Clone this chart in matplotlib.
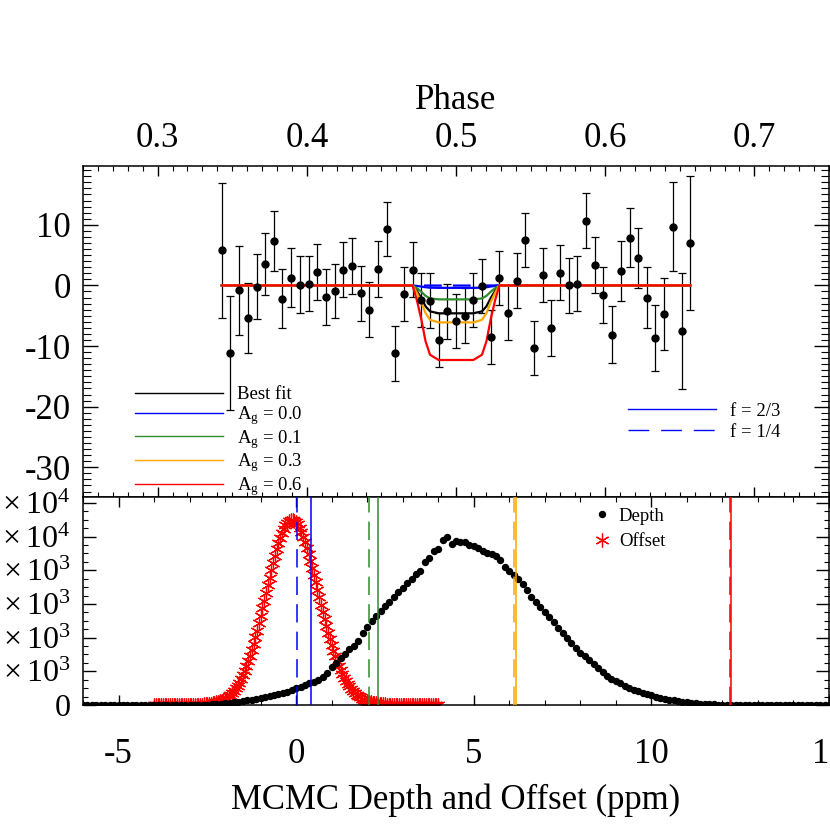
import matplotlib
matplotlib.use("Agg")
import matplotlib.pyplot as plt
import numpy as np
from matplotlib.lines import Line2D
from matplotlib.ticker import FixedFormatter, FixedLocator, MultipleLocator

plt.rcParams["font.family"] = ["Liberation Serif", "DejaVu Serif"]
plt.rcParams["mathtext.fontset"] = "custom"
plt.rcParams["mathtext.rm"] = "Liberation Serif"
plt.rcParams["mathtext.it"] = "Liberation Serif:italic"
plt.rcParams["axes.unicode_minus"] = False

# binned eclipse light curve
phase = [0.3430, 0.3488, 0.3546, 0.3604, 0.3663, 0.3721, 0.3779, 0.3837, 0.3895,
         0.3953, 0.4012, 0.4070, 0.4128, 0.4186, 0.4244, 0.4302, 0.4360, 0.4419,
         0.4477, 0.4535, 0.4593, 0.4651, 0.4709, 0.4767, 0.4826, 0.4884, 0.4942,
         0.5000, 0.5058, 0.5116, 0.5174, 0.5233, 0.5291, 0.5349, 0.5407, 0.5465,
         0.5523, 0.5581, 0.5640, 0.5698, 0.5756, 0.5814, 0.5872, 0.5930, 0.5988,
         0.6047, 0.6105, 0.6163, 0.6221, 0.6279, 0.6337, 0.6396, 0.6454, 0.6512,
         0.6570]
flux = [5.8, -11.2, -0.8, -5.4, -0.2, 3.5, 7.3, -2.2, 1.3, 0.1, 0.3, 2.2, -1.9,
        -0.9, 2.6, 3.2, -1.3, -4.0, 2.7, 9.3, -11.2, -1.4, 2.6, -2.4, -2.5, -9.0,
        -4.3, -5.9, -5.0, -2.4, -0.1, -8.5, 1.2, -4.5, 0.8, 7.5, -10.3, 1.7, -7.0,
        2.1, 0.0, 0.3, 10.7, 3.4, -1.6, -8.1, 2.4, 7.9, 4.5, -2.0, -8.7, -4.7,
        9.7, -7.5, 7.0]
flux_err = [11.1, 9.4, 7.3, 5.8, 5.4, 5.1, 5.0, 4.9, 4.8, 4.7, 4.6, 4.6, 4.6, 4.5,
            4.5, 4.6, 4.5, 4.5, 4.6, 4.5, 4.5, 4.5, 4.5, 4.5, 4.5, 4.5, 4.5, 4.5,
            4.5, 4.5, 4.5, 4.5, 4.5, 4.5, 4.5, 4.5, 4.5, 4.5, 4.6, 4.5, 4.6, 4.5,
            4.6, 4.6, 4.6, 4.7, 4.9, 4.9, 4.9, 5.1, 5.4, 5.9, 7.4, 9.6, 11.1]

# eclipse model shape (fraction of depth) and depths in ppm
model_phase = [0.343, 0.4709, 0.4738, 0.4767, 0.4796, 0.4826, 0.4884,
               0.5116, 0.5174, 0.5204, 0.5233, 0.5262, 0.5291, 0.657]
model_shape = [0, 0, 0.2, 0.45, 0.75, 0.93, 1, 1, 0.93, 0.75, 0.45, 0.2, 0, 0]
model_labels = ["Best fit", r"A$_{\rm g}$ = 0.0", r"A$_{\rm g}$ = 0.1",
                r"A$_{\rm g}$ = 0.3", r"A$_{\rm g}$ = 0.6"]
model_depths = [4.6, 0.4, 2.3, 6.1, 12.3]
model_colors = ["black", "blue", "#2e8b2e", "orange", "red"]
depth_ag0_quarter = 0.02

# predicted depths (ppm) for A_g = 0.0, 0.1, 0.3, 0.6
ag_colors = ["blue", "#2e8b2e", "orange", "red"]
ag_depth_f23 = [0.41, 2.30, 6.19, 12.25]
ag_depth_f14 = [0.02, 2.06, 6.12, 12.22]

# MCMC histograms
depth_start, depth_step = -6.0, 0.125
depth_counts = [0] * 28 + [
    20, 30, 45, 65, 90, 120, 150, 185, 220, 270, 310, 370, 430, 480, 540, 600,
    660, 730, 800, 890, 980, 1060, 1160, 1280, 1390, 1500, 1660, 1900, 2250,
    2500, 2800, 3050, 3300, 3480, 3800, 4300, 4650, 5000, 5300, 5560, 5850,
    6100, 6400, 6700, 6950, 7230, 7500, 7800, 7950, 8500, 8750, 9150, 9250,
    9800, 9950, 9550, 9750, 9700, 9650, 9500, 9420, 9300, 9150, 9050, 8950,
    8850, 8600, 8200, 7950, 7700, 7500, 7200, 6800, 6400, 6100, 5800, 5550,
    5250, 4950, 4600, 4300, 3980, 3700, 3400, 3100, 2880, 2650, 2420, 2200,
    1950, 1750, 1550, 1400, 1280, 1150, 1020, 900, 810, 720, 640, 570, 500,
    430, 370, 320, 270, 230, 190, 160, 130, 100, 80, 60, 45, 35, 25, 18, 12,
    8, 5, 3] + [0] * 20
offset_start, offset_step = -4.0, 0.05
offset_counts = [
    0, 0, 0, 0, 0, 0, 0, 0, 0, 0,
    1, 1, 1, 1, 2, 2, 3, 3, 4, 5,
    6, 7, 9, 11, 14, 18, 22, 28, 34, 42,
    52, 65, 80, 100, 120, 150, 180, 220, 260, 310,
    370, 440, 520, 615, 720, 845, 980, 1145, 1320, 1530,
    1760, 2015, 2290, 2590, 2900, 3255, 3620, 4015, 4420, 4845,
    5280, 5730, 6180, 6640, 7100, 7555, 8000, 8435, 8850, 9240,
    9600, 9935, 10220, 10470, 10670, 10830, 10930, 10990, 11000, 10950,
    10850, 10720, 10510, 10280, 9990, 9680, 9320, 8950, 8560, 8150,
    7720, 7290, 6850, 6410, 5960, 5530, 5100, 4700, 4300, 3920,
    3560, 3220, 2900, 2600, 2330, 2070, 1840, 1620, 1430, 1250,
    1100, 960, 830, 720, 620, 530, 450, 380, 320, 270,
    230, 190, 160, 130, 110, 90, 75, 60, 50, 40,
    33, 27, 22, 18, 14, 11, 9, 7, 6, 5,
    4, 3, 3, 2, 2, 1, 1, 1, 1, 1,
    0, 0, 0, 0, 0, 0, 0, 0, 0, 0, 0]
count_ticks = [0, 2000, 4000, 6000, 8000, 10000, 12000]
count_labels = ["0", r"$2\times10^{3}$", r"$4\times10^{3}$", r"$6\times10^{3}$",
                r"$8\times10^{3}$", r"$1.0\times10^{4}$", r"$1.2\times10^{4}$"]

FS = 25
LEG_FS = 13.5

fig = plt.figure(figsize=(8.3, 8.3), dpi=100)
ax1 = fig.add_axes([0.1, 0.4012, 0.8988, 0.3988])
ax2 = fig.add_axes([0.1, 0.1506, 0.8988, 0.2506])

# ---- top panel: light curve ----
ax1.errorbar(phase, flux, yerr=flux_err, fmt="none", ecolor="black",
             elinewidth=0.9, capsize=3, capthick=0.9, zorder=2)
shape = np.array(model_shape)
for depth, color in zip(model_depths[:2], model_colors[:2]):
    ax1.plot(model_phase, -depth * shape, color=color, lw=1.6, zorder=3)
ax1.plot(model_phase, -depth_ag0_quarter * shape, color="blue", lw=1.6,
         dashes=(8, 5), zorder=3)
for depth, color in zip(model_depths[2:], model_colors[2:]):
    ax1.plot(model_phase, -depth * shape, color=color, lw=1.6, zorder=3)
ax1.plot(phase, flux, "o", color="black", ms=5, zorder=4)

ax1.set_xlim(0.25, 0.75)
ax1.set_ylim(-34.9, 19.7)
ax1.xaxis.set_major_locator(MultipleLocator(0.1))
ax1.xaxis.set_minor_locator(MultipleLocator(0.01))
ax1.yaxis.set_major_locator(MultipleLocator(10))
ax1.yaxis.set_minor_locator(MultipleLocator(1))
ax1.xaxis.set_label_position("top")
ax1.set_xlabel("Phase", fontsize=FS, labelpad=9)
ax1.tick_params(axis="x", which="both", direction="in", top=True, bottom=True,
                labeltop=True, labelbottom=False, labelsize=FS, pad=8)
ax1.tick_params(axis="x", which="major", length=7.5, width=1)
ax1.tick_params(axis="x", which="minor", length=3.6, width=0.8)
ax1.tick_params(axis="y", which="both", direction="in", left=True, right=True,
                labelsize=FS, pad=9)
ax1.tick_params(axis="y", which="major", length=11, width=1)
ax1.tick_params(axis="y", which="minor", length=5.5, width=0.8)

model_handles = [Line2D([], [], color=c, lw=1) for c in model_colors]
leg1 = ax1.legend(model_handles, model_labels, loc="upper left",
                  bbox_to_anchor=(0.0697, 0.335), frameon=False,
                  fontsize=LEG_FS, handlelength=4.7, handletextpad=0.75,
                  labelspacing=0.04, borderpad=0, borderaxespad=0)
ax1.add_artist(leg1)
f_handles = [Line2D([], [], color="blue", lw=1),
             Line2D([], [], color="blue", lw=1, dashes=(15, 8.5))]
ax1.legend(f_handles, ["f = 2/3", "f = 1/4"], loc="upper left",
           bbox_to_anchor=(0.7306, 0.285), frameon=False, fontsize=LEG_FS,
           handlelength=4.7, handletextpad=0.75, labelspacing=0.2,
           borderpad=0, borderaxespad=0)

# ---- bottom panel: MCMC distributions ----
depth_x = depth_start + depth_step * np.arange(len(depth_counts))
offset_x = offset_start + offset_step * np.arange(len(offset_counts))
ax2.plot(depth_x, depth_counts, "o", color="black", ms=4.3, zorder=3,
         label="Depth")
ax2.plot(offset_x, offset_counts, ls="none", marker=(6, 2, 0), color="red",
         ms=10, mew=0.9, zorder=2, label="Offset")
for x, color in zip(ag_depth_f23, ag_colors):
    ax2.axvline(x, color=color, lw=1.1, zorder=4)
for x, color in zip(ag_depth_f14, ag_colors):
    ax2.axvline(x, color=color, lw=1.1, dashes=(12, 6), zorder=4)

ax2.set_xlim(-6, 15)
ax2.set_ylim(0, 12350)
ax2.xaxis.set_major_locator(MultipleLocator(5))
ax2.xaxis.set_minor_locator(MultipleLocator(1))
ax2.yaxis.set_major_locator(FixedLocator(count_ticks))
ax2.yaxis.set_major_formatter(FixedFormatter(count_labels))
ax2.yaxis.set_minor_locator(MultipleLocator(500))
ax2.set_xlabel("MCMC Depth and Offset (ppm)", fontsize=FS, labelpad=9)
ax2.tick_params(axis="x", which="both", direction="in", top=True, bottom=True,
                labelsize=FS, pad=24)
ax2.tick_params(axis="x", which="major", length=7.5, width=1)
ax2.tick_params(axis="x", which="minor", length=3.6, width=0.8)
ax2.tick_params(axis="y", which="both", direction="in", left=True, right=True,
                labelsize=23, pad=9)
ax2.tick_params(axis="y", which="major", length=9.5, width=1)
ax2.tick_params(axis="y", which="minor", length=3.8, width=0.8)
ax2.legend(loc="upper left", bbox_to_anchor=(0.683, 0.95), frameon=False,
           fontsize=LEG_FS, handlelength=1.0, handletextpad=0.4,
           labelspacing=0.45, borderpad=0, borderaxespad=0, numpoints=1)

for ax in (ax1, ax2):
    for spine in ax.spines.values():
        spine.set_linewidth(1.1)

fig.savefig("out.png", dpi=100)
